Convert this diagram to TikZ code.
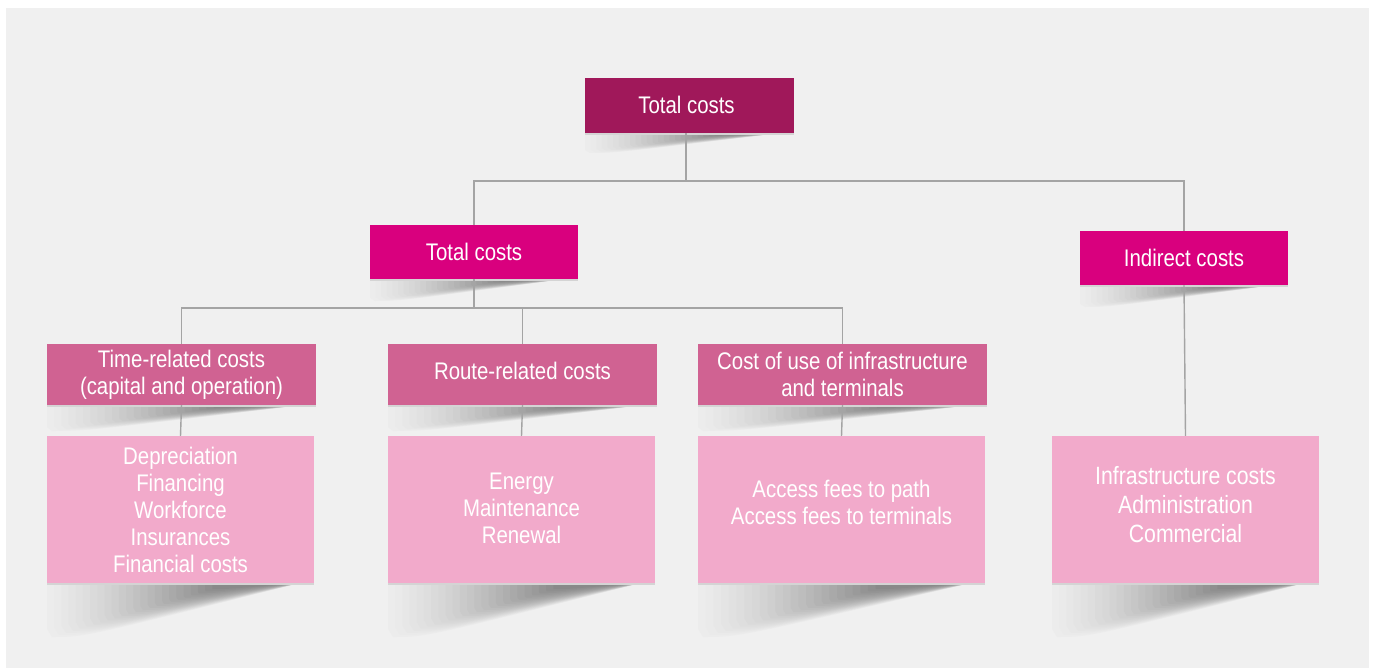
\documentclass[tikz,border=0pt]{standalone}
\usepackage{fontspec}
\setmainfont{Liberation Sans}[FakeStretch=0.85]
\usetikzlibrary{calc}

\definecolor{bgc}{HTML}{F0F0F0}
\definecolor{topc}{HTML}{A0185A}
\definecolor{midc}{HTML}{D9007E}
\definecolor{subc}{HTML}{D06292}
\definecolor{leafc}{HTML}{F2AACB}
\definecolor{linec}{HTML}{A4A4A4}
\definecolor{rimc}{HTML}{D4D4D4}
\definecolor{shadeR}{HTML}{5C5C5C}

\pgfdeclarelayer{canvas}
\pgfdeclarelayer{back}
\pgfsetlayers{canvas,back,main}

% curled drop shadow under a box: node, box width, shadow depth.
% Built from nested, ever darker layers that shrink towards the right tip.
\newcommand\curlshadow[3]{%
  \foreach \i in {0,...,23} {%
    \pgfmathsetmacro\s{\i/26}%
    \pgfmathsetmacro\xl{0.7*\s*#2}%
    \pgfmathsetmacro\dep{#3*(1-\s)}%
    \pgfmathsetmacro\cx{\xl+0.15*(#2-15-\xl)}%
    \pgfmathsetmacro\ex{\xl+5*(1-\s)}%
    \pgfmathsetmacro\pc{3+78*\s^1.3}%
    \fill[shadeR!\pc!bgc] ([xshift=\xl pt]#1.south west) -- ([xshift=-15pt]#1.south east)
      .. controls ([xshift=\cx pt, yshift=-\dep pt]#1.south west)
      .. ([xshift=\ex pt, yshift=-\dep pt]#1.south west)
      -- ([xshift=\xl pt, yshift=-0.85*\dep pt]#1.south west) -- cycle;
  }
  \draw[rimc, line width=2pt] ([yshift=-1pt]#1.south west) -- ([yshift=-1pt]#1.south east);
  \draw[white, line width=1pt] ([xshift=0.5pt]#1.north west) -- ([xshift=0.5pt]#1.south west);
}
% lift a text block without changing the space it takes
\newcommand\lift[2]{\raisebox{#1}[\height][\depth]{\begin{tabular}{@{}c@{}}#2\end{tabular}}}

\begin{document}
\begin{tikzpicture}[x=1pt, y=-1pt,
  box/.style={inner sep=0pt, outer sep=0pt, text=white, align=center,
              font=\fontsize{24}{27}\selectfont},
  topbox/.style={box, fill=topc, minimum width=209pt, minimum height=55pt},
  midbox/.style={box, fill=midc, minimum width=208pt, minimum height=54pt},
  subbox/.style={box, fill=subc, minimum height=61pt},
  leafbox/.style={box, fill=leafc, minimum width=267pt, minimum height=147pt},
  link/.style={draw=linec, line width=1.4pt}]

\useasboundingbox (0,0) rectangle (1375,668);
\begin{pgfonlayer}{canvas}
  \fill[bgc] (6,8) rectangle (1369,668);
\end{pgfonlayer}

% boxes
\node[topbox] (top) at (689.5,105.5) {\lift{-3pt}{\hspace*{-6pt}Total costs}};
\node[midbox] (tc) at (474,252) {Total costs};
\node[midbox] (ic) at (1184,258) {Indirect costs};

\node[subbox, minimum width=269pt] (ta) at (181.5,374.5) {Time-related costs\\(capital and operation)};
\node[subbox, minimum width=269pt] (tr) at (522.5,374.5) {\lift{0pt}{Route-related costs}};
\node[subbox, minimum width=289pt] (tu) at (842.5,374.5) {Cost of use of infrastructure\\and terminals};

\node[leafbox] (la) at (180.5,509.5) {Depreciation\\Financing\\Workforce\\Insurances\\Financial costs};
\node[leafbox] (lb) at (521.5,509.5) {\lift{-2pt}{Energy\\Maintenance\\Renewal}};
\node[leafbox, minimum width=287pt] (lc) at (841.5,509.5) {\lift{4pt}{Access fees to path\\Access fees to terminals}};
\node[leafbox, font=\fontsize{25}{29}\selectfont] (ld) at (1185.5,509.5) {\lift{2pt}{Infrastructure costs\\Administration\\Commercial}};

\begin{pgfonlayer}{back}
  % shadows
  \curlshadow{top}{209}{20}
  \curlshadow{tc}{208}{22}
  \curlshadow{ic}{208}{22}
  \curlshadow{ta}{269}{26}
  \curlshadow{tr}{269}{26}
  \curlshadow{tu}{289}{26}
  \curlshadow{la}{267}{54}
  \curlshadow{lb}{267}{54}
  \curlshadow{lc}{287}{54}
  \curlshadow{ld}{267}{54}

  % connectors
  \coordinate (bus1) at (0,181);
  \coordinate (bus2) at (0,308);
  \coordinate (topfoot) at ([xshift=-3.5pt]top.south);
  \draw[link] (topfoot) -- (topfoot |- bus1);
  \draw[link] (tc.north) |- (ic.north |- bus1) -- (ic.north);
  \draw[link] (tc.south) -- (tc.south |- bus2);
  \draw[link] (ta.north) |- (tu.north |- bus2) -- (tu.north);
  \draw[link] (tr.north) -- (tr.north |- bus2);
  \draw[link] (ta.south) -- (la.north);
  \draw[link] (tr.south) -- (lb.north);
  \draw[link] (tu.south) -- (lc.north);
  \draw[link] (ic.south) -- (ld.north);
\end{pgfonlayer}

\end{tikzpicture}
\end{document}
